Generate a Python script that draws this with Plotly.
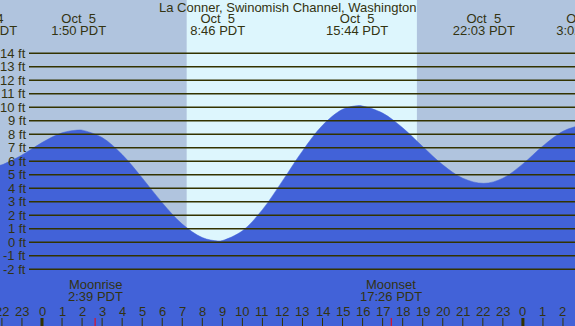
import plotly.graph_objects as go

# ---- data (hours from Oct 5 00:00 PDT) ----
tide_hours = [-2.1, -2, -1, 0, 1, 1.83, 2, 3, 4, 5, 6, 7, 8, 8.77, 9, 10, 11, 12, 13, 14,
              15, 15.73, 16, 17, 18, 19, 20, 21, 22.05, 23, 24, 25, 26, 26.6]
tide_feet = [5.71, 5.74, 6.46, 7.39, 8.11, 8.32, 8.31, 7.76, 6.50, 4.77, 2.93, 1.35, 0.35, 0.10,
             0.13, 0.85, 2.42, 4.55, 6.77, 8.67, 9.85, 10.12, 10.09, 9.57, 8.48, 7.09, 5.74,
             4.75, 4.37, 4.75, 5.81, 7.14, 8.23, 8.56]

extreme_hours = [-2.79, 1.83, 8.77, 15.73, 22.05, 27.03]
extreme_dates = ["Oct\u00a0\u00a04", "Oct\u00a0\u00a05", "Oct\u00a0\u00a05", "Oct\u00a0\u00a05",
                 "Oct\u00a0\u00a05", "Oct\u00a0\u00a06"]
extreme_times = ["21:13 PDT", "1:50 PDT", "8:46 PDT", "15:44 PDT", "22:03 PDT", "3:02 PDT"]

sunrise_hour, sunset_hour = 7.22, 18.71
moon_hours = [2.65, 17.43]
moon_names = ["Moonrise", "Moonset"]
moon_times = ["2:39 PDT", "17:26 PDT"]

hour_ticks = list(range(-2, 27))
hour_labels = [str(h % 24) for h in hour_ticks]
feet_ticks = list(range(-2, 15))
feet_labels = [f"{f} ft" for f in feet_ticks]

title = "La Conner, Swinomish Channel, Washington"

# ---- styling ----
W, H = 575, 326
XR = [-2.096, 26.60]
YR = [-6.2, 17.95]
NIGHT = "#b0c4de"
DAY = "#ddf6fd"
WATER = "#4262d8"
INK = "#333311"
LINE = "#333300"
FONT = "Liberation Sans, Arial, sans-serif"
FS = 13


def py(px):  # pixel-from-top -> paper fraction
    return 1 - px / H


def fy(px):  # pixel-from-top -> data feet
    return YR[1] - px / H * (YR[1] - YR[0])


fig = go.Figure()

# baseline for fill
fig.add_trace(go.Scatter(x=[XR[0] - 1, XR[1] + 1], y=[YR[0] - 2, YR[0] - 2], mode="lines",
                         line=dict(width=0, color=WATER), hoverinfo="skip", showlegend=False))
fig.add_trace(go.Scatter(x=tide_hours, y=tide_feet, mode="lines", fill="tonexty",
                         fillcolor=WATER, line=dict(color=WATER, width=0.5, shape="spline", smoothing=1),
                         hoverinfo="skip", showlegend=False))

# header extreme labels
fig.add_trace(go.Scatter(x=extreme_hours, y=[fy(19.5)] * len(extreme_hours), mode="text",
                         text=extreme_dates, textfont=dict(family=FONT, size=FS, color=INK),
                         textposition="middle center", hoverinfo="skip", showlegend=False))
fig.add_trace(go.Scatter(x=extreme_hours, y=[fy(31.5)] * len(extreme_hours), mode="text",
                         text=extreme_times, textfont=dict(family=FONT, size=FS, color=INK),
                         textposition="middle center", hoverinfo="skip", showlegend=False))

shapes = []
shapes.append(dict(type="rect", xref="x", yref="paper", x0=sunrise_hour, x1=sunset_hour,
                   y0=0, y1=1, fillcolor=DAY, line=dict(width=0), layer="below"))
for f in feet_ticks:
    shapes.append(dict(type="line", xref="paper", yref="y", x0=29 / W, x1=1, y0=f, y1=f,
                       line=dict(color=LINE, width=1.4), layer="above"))
for h in hour_ticks:
    shapes.append(dict(type="line", xref="x", yref="paper", x0=h, x1=h, y0=0, y1=py(318),
                       line=dict(color=LINE, width=3 if h % 24 == 0 else 1), layer="above"))
for m in moon_hours:
    shapes.append(dict(type="line", xref="x", yref="paper", x0=m, x1=m, y0=0, y1=py(318),
                       line=dict(color="#ff0000", width=1), layer="above"))

ann = []
ann.append(dict(text=title, x=0.5, y=py(7.5), xref="paper", yref="paper", showarrow=False,
                xanchor="center", yanchor="middle", font=dict(family=FONT, size=FS, color=INK)))
for f, lab in zip(feet_ticks, feet_labels):
    ann.append(dict(text=lab, x=27.5 / W, y=f, xref="paper", yref="y", showarrow=False,
                    xanchor="right", yanchor="middle", font=dict(family=FONT, size=FS, color=INK)))
for h, lab in zip(hour_ticks, hour_labels):
    ann.append(dict(text=lab, x=h, y=py(311), xref="x", yref="paper", showarrow=False,
                    xanchor="center", yanchor="middle", font=dict(family=FONT, size=FS, color=INK)))
for m, n, t in zip(moon_hours, moon_names, moon_times):
    ann.append(dict(text=n, x=m, y=py(284), xref="x", yref="paper", showarrow=False,
                    xanchor="center", yanchor="middle", font=dict(family=FONT, size=FS, color=INK)))
    ann.append(dict(text=t, x=m, y=py(296), xref="x", yref="paper", showarrow=False,
                    xanchor="center", yanchor="middle", font=dict(family=FONT, size=FS, color=INK)))

fig.update_layout(
    width=W, height=H, margin=dict(l=0, r=0, t=0, b=0),
    paper_bgcolor=NIGHT, plot_bgcolor=NIGHT,
    xaxis=dict(range=XR, visible=False, fixedrange=True),
    yaxis=dict(range=YR, visible=False, fixedrange=True),
    shapes=shapes, annotations=ann, showlegend=False,
)
fig.write_html("out.html", config={"displayModeBar": False},
               post_script="document.body.style.margin='0';document.body.style.overflow='hidden';")
